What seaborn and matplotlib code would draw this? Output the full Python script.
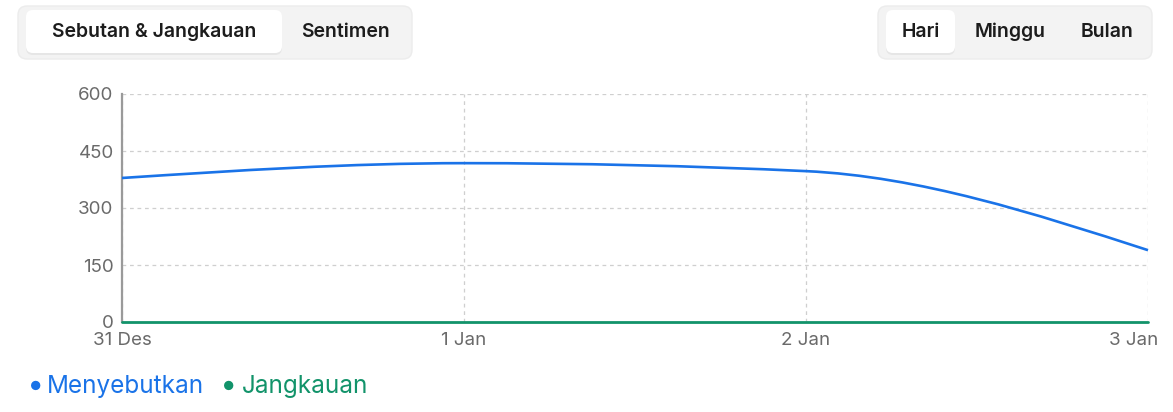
import numpy as np
import pandas as pd
import seaborn as sns
import matplotlib.pyplot as plt
import matplotlib.transforms as mtransforms
from matplotlib.path import Path
from matplotlib.patches import PathPatch, FancyBboxPatch

# data
dates = ['31 Des', '1 Jan', '2 Jan', '3 Jan']
menyebutkan = [379, 418, 397, 189]
jangkauan = [0, 0, 0, 0]
y_ticks = [0, 150, 300, 450, 600]
tabs_left = ['Sebutan & Jangkauan', 'Sentimen']
tabs_right = ['Hari', 'Minggu', 'Bulan']
series_names = ['Menyebutkan', 'Jangkauan']

BLUE = '#1a73e8'
GREEN = '#12936a'
W, H = 1173, 412

sns.set_style('white')
plt.rcParams['font.family'] = ['Inter', 'DejaVu Sans']


def monotone_path(x, y):
    # d3 curveMonotoneX style bezier through the data points
    x = np.asarray(x, float)
    y = np.asarray(y, float)
    h = np.diff(x)
    s = np.diff(y) / h
    t = np.zeros(len(x))
    for i in range(1, len(x) - 1):
        p = (s[i-1] * h[i] + s[i] * h[i-1]) / (h[i-1] + h[i])
        t[i] = (np.sign(s[i-1]) + np.sign(s[i])) * min(abs(s[i-1]), abs(s[i]), 0.5 * abs(p))
    t[0] = (3 * s[0] - t[1]) / 2
    t[-1] = (3 * s[-1] - t[-2]) / 2
    verts = [(x[0], y[0])]
    codes = [Path.MOVETO]
    for i in range(len(x) - 1):
        dx = h[i] / 3
        verts += [(x[i] + dx, y[i] + dx * t[i]), (x[i+1] - dx, y[i+1] - dx * t[i+1]), (x[i+1], y[i+1])]
        codes += [Path.CURVE4] * 3
    return Path(verts, codes)


fig = plt.figure(figsize=(W / 100, H / 100), dpi=100)
px = mtransforms.Affine2D().scale(1, -1).translate(0, H)  # pixel coords, origin top-left

# axes box in pixels: x 122..1148, y 94..322
ax = fig.add_axes([122 / W, 1 - 322 / H, (1148 - 122) / W, (322 - 94) / H])

x = list(range(len(dates)))
df = pd.DataFrame({'x': x, 'Jangkauan': jangkauan})
sns.lineplot(data=df, x='x', y='Jangkauan', color=GREEN, linewidth=2, ax=ax, clip_on=False, zorder=4)
ax.add_patch(PathPatch(monotone_path(x, menyebutkan), facecolor='none', edgecolor=BLUE,
                       linewidth=1.9, zorder=5, clip_on=False))

ax.set_xlim(0, len(dates) - 1)
ax.set_ylim(0, 600)
ax.set_xticks(x)
ax.set_xticklabels(dates)
ax.set_yticks(y_ticks)
ax.set_xlabel('')
ax.set_ylabel('')
ax.grid(True, linestyle=(0, (3, 3)), color='#cfcfcf', linewidth=0.9)
for sp in ['top', 'right', 'bottom']:
    ax.spines[sp].set_visible(False)
ax.spines['left'].set_color('#9a9a9a')
ax.spines['left'].set_linewidth(1.6)
ax.tick_params(axis='both', colors='#9a9a9a', labelcolor='#6a6a6a', labelsize=13.5,
               length=5, width=1, pad=1, direction='out')
ax.tick_params(axis='x', pad=2.5)
labels = ax.get_xticklabels()
labels[-1].set_transform(labels[-1].get_transform()
                         + mtransforms.ScaledTranslation(-14 / 100, 0, fig.dpi_scale_trans))


def tab_group(x0, x1, names, centers, active_right):
    fig.patches.append(FancyBboxPatch((x0, 6), x1 - x0, 53, boxstyle='round,pad=0,rounding_size=9',
                                      facecolor='#f3f3f3', edgecolor='#ececec', linewidth=1,
                                      transform=px, figure=fig))
    fig.patches.append(FancyBboxPatch((x0 + 8, 12), active_right - x0 - 8, 43,
                                      boxstyle='round,pad=0,rounding_size=7',
                                      facecolor='#e6e6e6', edgecolor='none',
                                      transform=px, figure=fig))
    fig.patches.append(FancyBboxPatch((x0 + 8, 10), active_right - x0 - 8, 43,
                                      boxstyle='round,pad=0,rounding_size=7',
                                      facecolor='white', edgecolor='none',
                                      transform=px, figure=fig))
    for name, cx in zip(names, centers):
        fig.text(cx, 32, name, transform=px, ha='center', va='center', fontsize=14,
                 fontweight='semibold', color='#1c1c1c')


tab_group(18, 412, tabs_left, [154, 345], 282)
tab_group(878, 1152, tabs_right, [921, 1010, 1107], 955)

# legend
fig.text(36, 387, '\u25cf', transform=px, ha='center', va='center', fontsize=9, color=BLUE)
fig.text(47, 386, series_names[0], transform=px, ha='left', va='center', fontsize=17.5, color=BLUE)
fig.text(229, 387, '\u25cf', transform=px, ha='center', va='center', fontsize=9, color=GREEN)
fig.text(242, 386, series_names[1], transform=px, ha='left', va='center', fontsize=17.5, color=GREEN)

fig.savefig('out.png', dpi=100)
